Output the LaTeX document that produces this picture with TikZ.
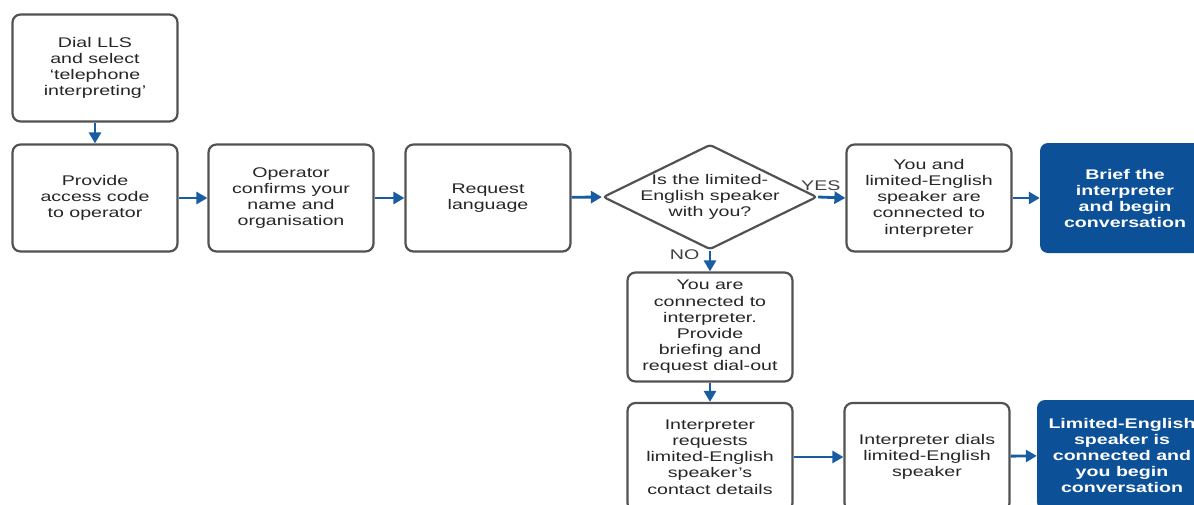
\documentclass[tikz,border=0pt]{standalone}
\usepackage{fontspec}
\setmainfont{Liberation Sans}[FakeStretch=1.4]
\usetikzlibrary{shapes.geometric,arrows.meta}
\definecolor{llsblue}{RGB}{12,80,152}
\definecolor{llsarrow}{RGB}{25,92,162}
\definecolor{llsgrey}{RGB}{82,82,82}
\tikzset{
	stepbox/.style={draw=llsgrey,line width=2.2pt,rounded corners=8pt,fill=white,minimum width=165pt,minimum height=107pt,align=center,text=black!85,font=\fontsize{14}{16.2}\selectfont},
	endbox/.style={fill=llsblue,rounded corners=8pt,minimum width=170pt,minimum height=110pt,align=center,text=white,font=\fontsize{14}{16}\selectfont\bfseries},
	decision/.style={diamond,draw=llsgrey,line width=2.2pt,rounded corners=3pt,minimum width=214pt,minimum height=105pt,inner sep=0pt},
	flow/.style={draw=llsarrow,line width=2.8pt,-{Triangle[length=11pt,width=12pt]}},
	answer/.style={align=center,text=black!75,font=\fontsize{14}{16.2}\selectfont}
}
\begin{document}
\begin{tikzpicture}[x=1pt,y=-1pt]
	\clip (0,0) rectangle (1194,504);
	\node[stepbox] (dial) at (95,68) {Dial LLS\\and select\\‘telephone\\interpreting’};
	\node[stepbox] (access) at (95,198) {Provide\\access code\\to operator};
	\node[stepbox] (operator) at (291,198) {Operator\\confirms your\\name and\\organisation};
	\node[stepbox] (language) at (488,198) {Request\\language};
	\node[decision] (ask) at (710,197) {};
	\node[answer,text=black!85] (asktext) at (ask) {Is the limited-\\English speaker\\with you?};
	\node[stepbox] (together) at (929,198) {You and\\limited-English\\speaker are\\connected to\\interpreter};
	\node[endbox] (brief) at (1125,198) {Brief the\\interpreter\\and begin\\conversation};
	\node[stepbox,minimum height=109pt] (connected) at (710,327) {You are\\connected to\\interpreter.\\Provide\\briefing and\\request dial-out};
	\node[stepbox,minimum height=108pt] (requests) at (710,457) {Interpreter\\requests\\limited-English\\speaker’s\\contact details};
	\node[stepbox,minimum height=108pt] (dials) at (927,457) {Interpreter dials\\limited-English\\speaker};
	\node[endbox] (joined) at (1122,455) {Limited-English\\speaker is\\connected and\\you begin\\conversation};
	\draw[flow] (dial.south) -- (access.north);
	\draw[flow] (access) -- (operator);
	\draw[flow] (operator) -- (language);
	\draw[flow] (language) -- (ask.west);
	\draw[flow] (ask.east) -- (together.west) node[answer,pos=0.1,above=2pt] (yes) {YES};
	\draw[flow] (together) -- (brief);
	\draw[flow] (ask.south) -- (connected.north) node[answer,pos=0.2,left=6pt] (no) {NO};
	\draw[flow] (connected.south) -- (requests.north);
	\draw[flow] (requests) -- (dials);
	\draw[flow] (dials) -- (joined);
\end{tikzpicture}
\end{document}
